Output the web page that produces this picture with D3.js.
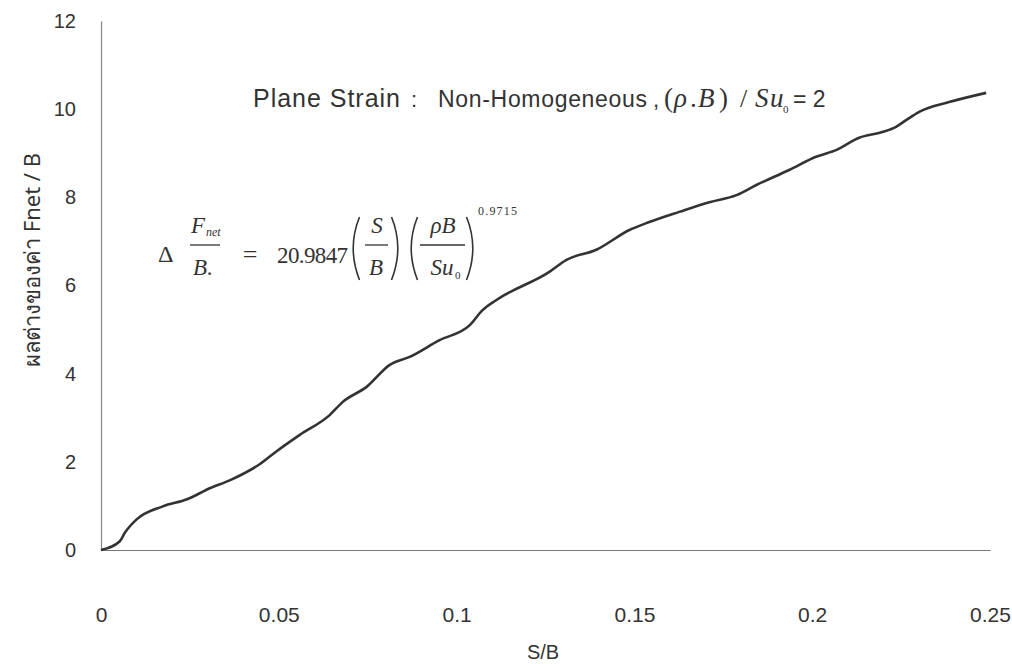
<!DOCTYPE html>
<html>
<head>
<meta charset="utf-8">
<script src="https://cdn.jsdelivr.net/npm/d3@7"></script>
<style>
  body { margin: 0; background: #fff; }
  svg { display: block; }
</style>
</head>
<body>
<svg id="chart"></svg>
<script>
var w = 1012;
var h = 664;

// S/B values and Fnet/B
var sbValues = [0, 0.0053, 0.0067, 0.0101, 0.0174, 0.0242, 0.0306, 0.0362, 0.0447, 0.0494,
  0.0559, 0.0643, 0.068, 0.0747, 0.0812, 0.0868, 0.0952, 0.1037, 0.1073, 0.1112,
  0.1261, 0.1309, 0.1393, 0.1486, 0.1542, 0.1626, 0.1711, 0.1787, 0.1843, 0.1935,
  0.2011, 0.2067, 0.2132, 0.2197, 0.2236, 0.2264, 0.2301, 0.2385, 0.2489];
var fnetValues = [0, 0.2, 0.39, 0.7, 0.99, 1.15, 1.4, 1.58, 1.95, 2.24,
  2.61, 3.06, 3.36, 3.7, 4.2, 4.38, 4.76, 5.1, 5.44, 5.67,
  6.31, 6.58, 6.81, 7.26, 7.44, 7.67, 7.89, 8.05, 8.28, 8.62,
  8.92, 9.07, 9.35, 9.48, 9.6, 9.75, 9.94, 10.16, 10.37];

var xTicks = [0, 0.05, 0.1, 0.15, 0.2, 0.25];
var yTicks = [0, 2, 4, 6, 8, 10, 12];

var svg = d3.select('#chart').attr('width', w).attr('height', h);

var x = d3.scaleLinear().domain([0, 0.25]).range([101, 990]);
var y = d3.scaleLinear().domain([0, 12]).range([550, 21]);

var sans = '"Liberation Sans", Arial, sans-serif';
var serif = '"Liberation Serif", "DejaVu Serif", serif';

// axes
var xAxis = svg.append('g')
  .attr('transform', 'translate(0,' + y(0) + ')')
  .call(d3.axisBottom(x).tickValues(xTicks).tickSize(0).tickPadding(57)
    .tickFormat(function (d) { return d3.format('~g')(d); }));
var yAxis = svg.append('g')
  .attr('transform', 'translate(' + x(0) + ',0)')
  .call(d3.axisLeft(y).tickValues(yTicks).tickSize(0).tickPadding(25));

xAxis.select('.domain').attr('stroke', '#777').attr('stroke-width', 1.2);
yAxis.select('.domain').attr('stroke', '#888').attr('stroke-width', 1.2);
xAxis.selectAll('text').style('font-family', sans).style('font-size', '21px').attr('fill', '#333');
yAxis.selectAll('text').style('font-family', sans).style('font-size', '20px').attr('fill', '#333');

// axis titles
svg.append('text')
  .attr('x', 543).attr('y', 659)
  .attr('text-anchor', 'middle')
  .style('font-family', sans).style('font-size', '20px').attr('fill', '#333')
  .text('S/B');
svg.append('text')
  .attr('transform', 'translate(40,260) rotate(-90)')
  .attr('text-anchor', 'middle')
  .style('font-family', '"Noto Sans", "DejaVu Sans", sans-serif').style('font-size', '22px').attr('fill', '#333')
  .text('ผลต่างของค่า Fnet / B');

// curve
var pts = sbValues.map(function (d, i) { return [d, fnetValues[i]]; });
var line = d3.line()
  .x(function (d) { return x(d[0]); })
  .y(function (d) { return y(d[1]); })
  .curve(d3.curveMonotoneX);
svg.append('path')
  .datum(pts)
  .attr('d', line)
  .attr('fill', 'none')
  .attr('stroke', '#333')
  .attr('stroke-width', 2.6)
  .attr('stroke-linejoin', 'round');

// text helper
function txt(xp, yp, s, size, fam, italic, anchor) {
  return svg.append('text')
    .attr('x', xp).attr('y', yp)
    .attr('text-anchor', anchor || 'start')
    .style('font-family', fam).style('font-size', size + 'px')
    .style('font-style', italic ? 'italic' : 'normal')
    .attr('fill', '#333')
    .text(s);
}

// title line
txt(253, 107, 'Plane Strain', 25, sans).attr('textLength', 147);
txt(411, 107, ':', 22, sans);
txt(438, 107, 'Non-Homogeneous', 23, sans).attr('textLength', 209);
txt(653, 107, ',', 22, sans);
txt(664, 107, '(', 27, serif);
txt(674, 107, 'ρ', 27, serif, true);
txt(690, 107, '.', 27, serif);
txt(698, 107, 'B', 27, serif, true);
txt(719, 107, ')', 27, serif);
txt(740, 107, '/', 26, serif);
txt(755, 107, 'S', 27, serif, true);
txt(770, 107, 'u', 27, serif, true);
txt(783, 113, '0', 11, serif);
txt(793, 107, '= 2', 23, sans);

// formula
txt(158, 262, 'Δ', 24, serif);
txt(205, 233, 'F', 23, serif, true, 'end');
txt(206, 236, 'net', 12, serif, true);
txt(203, 275, 'B.', 23, serif, true, 'middle');
txt(250, 263, '=', 26, serif, false, 'middle');
txt(277, 263, '20.9847', 23, serif).attr('textLength', 71);
txt(377, 233, 'S', 23, serif, true, 'middle');
txt(376, 275, 'B', 23, serif, true, 'middle');
txt(443, 233, 'ρB', 23, serif, true, 'middle');
txt(442, 275, 'Su', 23, serif, true, 'middle');
txt(455, 279, '0', 11, serif);
txt(478, 215, '0.9715', 12, serif).attr('textLength', 39);

function bar(x1, x2, yp) {
  svg.append('line').attr('x1', x1).attr('x2', x2).attr('y1', yp).attr('y2', yp)
    .attr('stroke', '#333').attr('stroke-width', 1.3);
}
bar(190, 220, 245);
bar(365, 388, 245);
bar(420, 465, 245);

function paren(x0, open) {
  var dx = open ? -9 : 9;
  svg.append('path')
    .attr('d', 'M' + (x0 - dx / 2) + ',217 Q' + (x0 + dx * 0.9) + ',248 ' + (x0 - dx / 2) + ',280')
    .attr('fill', 'none').attr('stroke', '#333').attr('stroke-width', 1.6);
}
paren(355, true);
paren(396, false);
paren(413, true);
paren(471, false);
</script>
</body>
</html>
